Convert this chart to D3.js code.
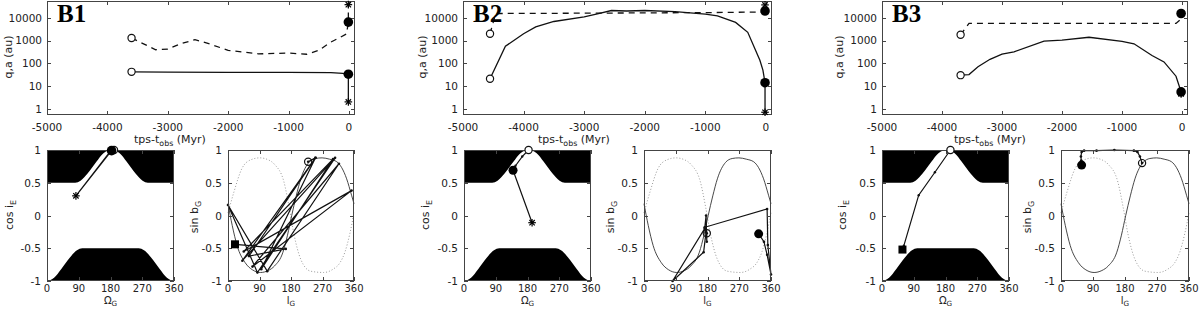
<!DOCTYPE html>
<html><head><meta charset="utf-8">
<script src="https://cdn.jsdelivr.net/npm/d3@7"></script>
<style>
body{margin:0;background:#fff}
svg{display:block}
text{fill:#222}
</style>
</head><body><svg id="c" width="1200" height="309" font-family="DejaVu Sans, sans-serif"></svg>
<script>
// ---------------- data ----------------
const panelNames = ["B1", "B2", "B3"];
const timeTicks = [-5000, -4000, -3000, -2000, -1000, 0];
const qaTicks = [1, 10, 100, 1000, 10000];
const qaTickLabels = ["1", "10", "100", "1000", "10000"];
const angleTicks = [0, 90, 180, 270, 360];
const unitTicks = [-1, -0.5, 0, 0.5, 1];
const unitTickLabels = ["-1", "-0.5", "0", "0.5", "1"];

// B1: perihelion q (solid) and semi-major axis a (dashed) vs time
const b1QTime = [-3600, -3000, -2000, -1000, -300, -100, -10, -10];
const b1Q = [42, 41, 40, 40, 39, 36, 33, 2];
const b1ATime = [-3600, -3460, -3200, -3000, -2800, -2550, -2300, -2000, -1500, -1000, -700, -500, -300, -40, -10, -10];
const b1A = [1300, 850, 395, 420, 700, 1100, 700, 370, 260, 280, 250, 370, 850, 1950, 6500, 38000];
// B2
const b2QTime = [-4554, -4300, -4000, -3800, -3500, -3000, -2800, -2550, -2300, -2000, -1500, -1000, -800, -500, -300, -100, -50, -15, -15];
const b2Q = [21, 560, 2000, 4000, 6900, 11000, 14500, 21000, 20000, 21000, 18800, 14500, 12200, 6300, 2300, 135, 50, 14, 0.7];
const b2ATime = [-4554, -4460, -3000, -2000, -1000, -15, -15, -15];
const b2A = [2000, 15500, 16000, 16500, 17000, 18000, 20000, 37000];
// B3
const b3QTime = [-3690, -3550, -3400, -3200, -3000, -2800, -2300, -2000, -1550, -1000, -800, -500, -300, -100, -15, -15];
const b3Q = [30, 32, 70, 150, 250, 320, 950, 1050, 1400, 930, 720, 220, 115, 27, 5.5, 4.5];
const b3ATime = [-3690, -3550, -2000, -100, -15, -15];
const b3A = [1800, 5650, 5650, 5650, 9000, 15500];

// markers on the q,a panels: [time, value]
const b1Open = [[-3600, 42], [-3600, 1300]];
const b1Filled = [[-10, 33], [-10, 6500]];
const b1Star = [[-10, 2], [-10, 38000]];
const b2Open = [[-4554, 21], [-4554, 2000]];
const b2Filled = [[-15, 14], [-15, 20000]];
const b2Star = [[-15, 0.7], [-15, 37000]];
const b3Open = [[-3690, 30], [-3690, 1800]];
const b3Filled = [[-15, 5.5], [-15, 15500]];
const b3Star = [[-15, 4.5]];

// forbidden (black) zones in the (Omega_G, cos i_E) plane: boundary points
const upperZoneOmega = [0, 80, 95, 115, 140, 160, 183, 206, 226, 251, 271, 286, 360];
const upperZoneCos = [0.5, 0.5, 0.53, 0.64, 0.82, 0.95, 1.0, 0.95, 0.82, 0.64, 0.53, 0.5, 0.5];
const lowerZoneOmega = [0, 20, 40, 65, 85, 100, 260, 275, 295, 320, 340, 360];
const lowerZoneCos = [-1, -0.95, -0.82, -0.64, -0.53, -0.5, -0.5, -0.53, -0.64, -0.82, -0.95, -1];

// (Omega_G, cos i_E) trajectories
const b1Omega = [190, 178, 82, 183];
const b1CosI = [1.0, 0.97, 0.30, 0.99];
const b2Omega = [183, 165, 146, 139, 193];
const b2CosI = [1.0, 0.9, 0.76, 0.69, -0.11];
const b3Omega = [194, 150, 104, 62, 58];
const b3CosI = [1.0, 0.66, 0.31, -0.46, -0.52];

// ecliptic (solid) and anti-curve (dotted) in (l_G, sin b_G)
const eclL = [0, 12, 26, 49, 70, 93, 115, 133, 157, 170, 182, 195, 208, 231, 250, 269, 290, 311, 339, 353, 360];
const eclSinB = [0.18, -0.15, -0.46, -0.72, -0.83, -0.87, -0.84, -0.77, -0.56, -0.3, 0.0, 0.3, 0.56, 0.81, 0.87, 0.88, 0.86, 0.82, 0.56, 0.31, 0.18];
const dotL = [0, 17, 40, 65, 91, 115, 133, 160, 175, 189, 208, 236, 273, 300, 320, 334, 348, 360];
const dotSinB = [0.04, 0.36, 0.72, 0.85, 0.88, 0.85, 0.78, 0.51, 0.12, -0.3, -0.67, -0.85, -0.87, -0.82, -0.72, -0.56, -0.28, 0.04];

// (l_G, sin b_G) trajectories
const b1L = [229, 250, 41, 306, 84, 0, 112, 317, 70, 353, 45, 300, 95, 250, 60, 165, 20];
const b1SinB = [0.82, 0.88, -0.69, 0.88, -0.87, 0.16, -0.85, 0.79, -0.78, 0.38, -0.55, 0.86, -0.82, 0.88, -0.62, -0.51, -0.44];
const b2L = [178, 178, 176, 172, 81, 169, 176, 172, 349, 351, 360, 349, 340, 325];
const b2SinB = [-0.27, -0.4, 0.0, -0.2, -1.0, -0.56, -0.25, -0.18, 0.10, -0.45, -0.9, -0.6, -0.4, -0.28];
const b3L = [228, 222, 215, 205, 150, 100, 65, 58, 56, 57, 58];
const b3SinB = [0.8, 0.9, 0.97, 0.99, 1.0, 0.99, 0.99, 0.97, 0.9, 0.84, 0.77];

// ---------------- layout ----------------
const svg = d3.select("#c");
const topX = [[47, 355], [463, 772], [882, 1188]];
const topY = [1, 115];
const leftX = [[47, 174], [464, 591], [882, 1009]];
const rightX = [[228, 354], [644, 771], [1061, 1189]];
const botY = [150, 281];
const xTitleTop = [184, 588, 1004];
const yTitleTop = [8, 422, 839];
const yTitleLeft = [9, 425, 842];
const yTitleRight = [194, 610, 1027];

const zip = (a, b) => a.map((v, i) => [v, b[i]]);

const qSeries = [zip(b1QTime, b1Q), zip(b2QTime, b2Q), zip(b3QTime, b3Q)];
const aSeries = [zip(b1ATime, b1A), zip(b2ATime, b2A), zip(b3ATime, b3A)];
const openM = [b1Open, b2Open, b3Open];
const filledM = [b1Filled, b2Filled, b3Filled];
const starM = [b1Star, b2Star, b3Star];
const omegaSeries = [zip(b1Omega, b1CosI), zip(b2Omega, b2CosI), zip(b3Omega, b3CosI)];
const lbSeries = [zip(b1L, b1SinB), zip(b2L, b2SinB), zip(b3L, b3SinB)];
const rightEndSquare = [true, false, false];

function frame(g, x0, x1, y0, y1, xs, ys, xt, yt) {
  g.append("rect").attr("x", x0 + 0.5).attr("y", y0 + 0.5)
    .attr("width", x1 - x0 - 1).attr("height", y1 - y0 - 1)
    .attr("fill", "none").attr("stroke", "#444").attr("stroke-width", 1);
  const tl = 4;
  xt.forEach(t => {
    const x = Math.round(xs(t)) + 0.5;
    g.append("line").attr("x1", x).attr("x2", x).attr("y1", y1).attr("y2", y1 - tl).attr("stroke", "#444");
    g.append("line").attr("x1", x).attr("x2", x).attr("y1", y0).attr("y2", y0 + tl).attr("stroke", "#444");
  });
  yt.forEach(t => {
    const y = Math.round(ys(t)) + 0.5;
    g.append("line").attr("x1", x0).attr("x2", x0 + tl).attr("y1", y).attr("y2", y).attr("stroke", "#444");
    g.append("line").attr("x1", x1).attr("x2", x1 - tl).attr("y1", y).attr("y2", y).attr("stroke", "#444");
  });
}

function star(g, x, y, r) {
  [0, 45, 90, 135].forEach(a => {
    const rad = a * Math.PI / 180;
    g.append("line").attr("x1", x - r * Math.cos(rad)).attr("y1", y - r * Math.sin(rad))
      .attr("x2", x + r * Math.cos(rad)).attr("y2", y + r * Math.sin(rad))
      .attr("stroke", "#000").attr("stroke-width", 1.2);
  });
}

function subLabel(g, x, y, main, sub, rest, size, rotate, anchor, subShift) {
  const shift = subShift != null ? subShift : size * 0.28;
  const t = g.append("text").attr("font-size", size).attr("text-anchor", anchor || "middle");
  if (rotate) t.attr("transform", `translate(${x},${y}) rotate(-90)`).attr("dy", "0.35em");
  else t.attr("x", x).attr("y", y);
  t.append("tspan").text(main);
  t.append("tspan").attr("font-size", size * 0.72).attr("dy", shift).text(sub);
  if (rest) t.append("tspan").attr("dy", -shift).text(rest);
}

panelNames.forEach((name, p) => {
  const g = svg.append("g");
  // ---------- top panel: q,a vs time ----------
  const xs = d3.scaleLinear().domain([-5000, 100]).range(topX[p]);
  const ys = d3.scaleLog().domain([0.53, 55000]).range([topY[1], topY[0]]);
  const line = d3.line().x(d => xs(d[0])).y(d => ys(d[1]));
  g.append("path").attr("d", line(qSeries[p])).attr("fill", "none").attr("stroke", "#111").attr("stroke-width", 1.3);
  g.append("path").attr("d", line(aSeries[p])).attr("fill", "none").attr("stroke", "#111").attr("stroke-width", 1.3)
    .attr("stroke-dasharray", "6,5");
  frame(g, topX[p][0], topX[p][1], topY[0], topY[1], xs, ys, timeTicks, qaTicks);
  openM[p].forEach(d => g.append("circle").attr("cx", xs(d[0])).attr("cy", ys(d[1])).attr("r", 3.6)
    .attr("fill", "#fff").attr("stroke", "#111").attr("stroke-width", 1.2));
  filledM[p].forEach(d => g.append("circle").attr("cx", xs(d[0])).attr("cy", ys(d[1])).attr("r", 4.8).attr("fill", "#000"));
  starM[p].forEach(d => star(g, xs(d[0]), ys(d[1]), 3.8));
  timeTicks.forEach(t => g.append("text").attr("x", xs(t)).attr("y", 130.5).attr("font-size", 10.5)
    .attr("text-anchor", "middle").text(t));
  qaTicks.forEach((t, i) => g.append("text").attr("x", topX[p][0] - 5).attr("y", ys(t) + 3.8).attr("font-size", 10.5)
    .attr("text-anchor", "end").text(qaTickLabels[i]));
  subLabel(g, xTitleTop[p] - 50, 142.5, "tps-t", "obs", " (Myr)", 11, false, "start");
  g.append("text").attr("transform", `translate(${yTitleTop[p]},57) rotate(-90)`).attr("dy", "0.35em")
    .attr("text-anchor", "middle").attr("font-size", 11).text("q,a (au)");
  g.append("text").attr("x", topX[p][0] + 10).attr("y", 22)
    .style("font-family", "'Liberation Serif', 'Times New Roman', serif")
    .attr("font-weight", "bold").attr("font-size", 25).style("fill", "#000").text(name);

  // ---------- bottom-left: cos iE vs Omega_G ----------
  const lx = d3.scaleLinear().domain([0, 360]).range(leftX[p]);
  const ly = d3.scaleLinear().domain([-1, 1]).range([botY[1], botY[0]]);
  const upperArea = d3.area().x(d => lx(d[0])).y0(ly(1)).y1(d => ly(d[1])).curve(d3.curveMonotoneX);
  const lowerArea = d3.area().x(d => lx(d[0])).y0(ly(-1)).y1(d => ly(d[1])).curve(d3.curveMonotoneX);
  g.append("path").attr("d", upperArea(zip(upperZoneOmega, upperZoneCos))).attr("fill", "#000");
  g.append("path").attr("d", lowerArea(zip(lowerZoneOmega, lowerZoneCos))).attr("fill", "#000");
  const lline = d3.line().x(d => lx(d[0])).y(d => ly(d[1]));
  const os = omegaSeries[p];
  g.append("path").attr("d", lline(os)).attr("fill", "none").attr("stroke", "#111").attr("stroke-width", 1.2);
  os.forEach(d => g.append("circle").attr("cx", lx(d[0])).attr("cy", ly(d[1])).attr("r", 1.2).attr("fill", "#111"));
  frame(g, leftX[p][0], leftX[p][1], botY[0], botY[1], lx, ly, angleTicks, unitTicks);
  g.append("circle").attr("cx", lx(os[0][0])).attr("cy", ly(os[0][1])).attr("r", 3.6)
    .attr("fill", "#fff").attr("stroke", "#111").attr("stroke-width", 1.2);
  const lastL = os[os.length - 1];
  if (p === 0) {
    star(g, lx(os[2][0]), ly(os[2][1]), 3.8);
    g.append("circle").attr("cx", lx(lastL[0])).attr("cy", ly(lastL[1])).attr("r", 4.8).attr("fill", "#000");
  } else if (p === 1) {
    g.append("circle").attr("cx", lx(os[3][0])).attr("cy", ly(os[3][1])).attr("r", 4.5).attr("fill", "#000");
    star(g, lx(lastL[0]), ly(lastL[1]), 3.8);
  } else {
    g.append("rect").attr("x", lx(lastL[0]) - 4).attr("y", ly(lastL[1]) - 4).attr("width", 8).attr("height", 8).attr("fill", "#000");
  }
  angleTicks.forEach(t => g.append("text").attr("x", lx(t)).attr("y", 292.3).attr("font-size", 10)
    .attr("text-anchor", "middle").text(t));
  unitTicks.forEach((t, i) => g.append("text").attr("x", leftX[p][0] - 6).attr("y", ly(t) + 4).attr("font-size", 10.5)
    .attr("text-anchor", "end").text(unitTickLabels[i]));
  subLabel(g, (leftX[p][0] + leftX[p][1]) / 2, 303.8, "Ω", "G", null, 10, false, "middle", 2.2);
  subLabel(g, yTitleLeft[p], 215, "cos i", "E", null, 11, true, "middle");

  // ---------- bottom-right: sin bG vs lG ----------
  const rx = d3.scaleLinear().domain([0, 360]).range(rightX[p]);
  const ry = d3.scaleLinear().domain([-1, 1]).range([botY[1], botY[0]]);
  const rline = d3.line().x(d => rx(d[0])).y(d => ry(d[1]));
  const rcurve = d3.line().x(d => rx(d[0])).y(d => ry(d[1])).curve(d3.curveMonotoneX);
  g.append("path").attr("d", rcurve(zip(dotL, dotSinB))).attr("fill", "none").attr("stroke", "#9a9a9a")
    .attr("stroke-width", 1).attr("stroke-dasharray", "1,2");
  g.append("path").attr("d", rcurve(zip(eclL, eclSinB))).attr("fill", "none").attr("stroke", "#333").attr("stroke-width", 0.9);
  const ls = lbSeries[p];
  g.append("path").attr("d", rline(ls)).attr("fill", "none").attr("stroke", "#111").attr("stroke-width", 1.2);
  ls.forEach(d => g.append("circle").attr("cx", rx(d[0])).attr("cy", ry(d[1])).attr("r", 1.3).attr("fill", "#111"));
  frame(g, rightX[p][0], rightX[p][1], botY[0], botY[1], rx, ry, angleTicks, unitTicks);
  g.append("circle").attr("cx", rx(ls[0][0])).attr("cy", ry(ls[0][1])).attr("r", 3.6)
    .attr("fill", "none").attr("stroke", "#111").attr("stroke-width", 1.2);
  const lastR = ls[ls.length - 1];
  if (rightEndSquare[p]) {
    g.append("rect").attr("x", rx(lastR[0]) - 4).attr("y", ry(lastR[1]) - 4).attr("width", 8).attr("height", 8).attr("fill", "#000");
  } else {
    g.append("circle").attr("cx", rx(lastR[0])).attr("cy", ry(lastR[1])).attr("r", 4.5).attr("fill", "#000");
  }
  angleTicks.forEach(t => g.append("text").attr("x", rx(t)).attr("y", 292.3).attr("font-size", 10)
    .attr("text-anchor", "middle").text(t));
  unitTicks.forEach((t, i) => g.append("text").attr("x", rightX[p][0] - 6).attr("y", ry(t) + 4).attr("font-size", 10.5)
    .attr("text-anchor", "end").text(unitTickLabels[i]));
  subLabel(g, (rightX[p][0] + rightX[p][1]) / 2, 303.8, "l", "G", null, 10, false, "middle", 2.2);
  subLabel(g, yTitleRight[p], 217, "sin b", "G", null, 11, true, "middle");
});
</script>
</body></html>
